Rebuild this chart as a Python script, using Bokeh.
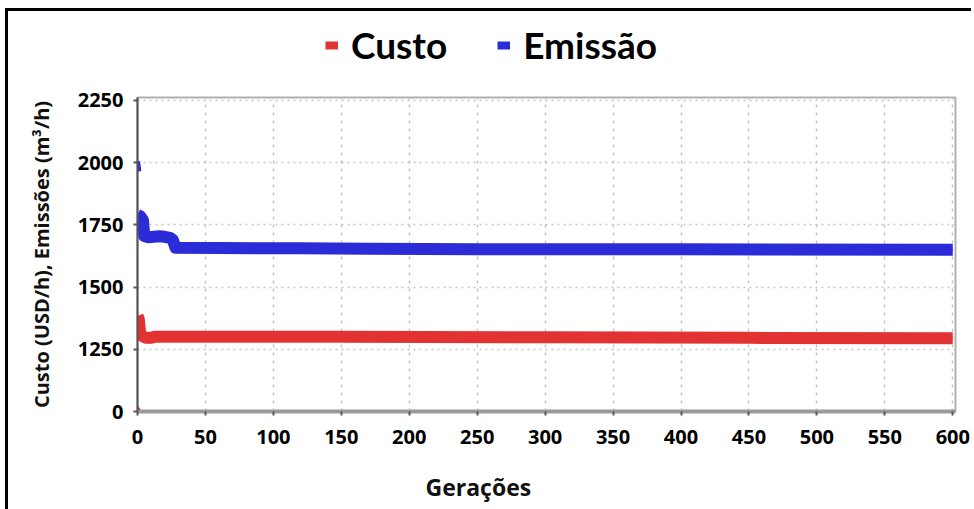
from bokeh.plotting import figure
from bokeh.layouts import column
from bokeh.models import FixedTicker, Legend, LegendItem, Label
from bokeh.embed import file_html
from bokeh.resources import INLINE

# ---- data ----
# Emissão (m3/h): first generation point, then the descending run
emis_first_gen = [0, 1]
emis_first_val = [2005, 1965]
emis_gen = [0, 2, 4, 5, 8, 12, 16, 20, 24, 26, 28, 60, 120, 170, 250, 400, 600]
emis_val = [1790, 1785, 1770, 1705, 1700, 1702, 1704, 1702, 1698, 1690, 1658, 1657, 1656, 1654, 1652, 1652, 1650]
# Custo (USD/h)
cost_zero_gen = [0]
cost_zero_val = [0]
cost_gen = [0, 1, 2, 4, 6, 10, 12, 50, 150, 300, 450, 600]
cost_val = [1385, 1370, 1310, 1302, 1296, 1296, 1300, 1300, 1300, 1298, 1296, 1294]

series_names = ["Custo", "Emissão"]
x_ticks = [0, 50, 100, 150, 200, 250, 300, 350, 400, 450, 500, 550, 600]
y_ticks = [0, 1250, 1500, 1750, 2000, 2250]
x_title = "Gerações"
y_title = "Custo (USD/h), Emissões (m³/h)"

# broken axis: values below 1250 drawn one step under 1250
BREAK_POS = 1000
def disp(v):
    return v if v >= 1250 else BREAK_POS + v * 0.0

RED = "#e23232"
BLUE = "#2b2bd8"
FONT = "Open Sans"
TXT = "#111111"

# ---------- legend strip (series drawn off-range; only the legend shows) ----------
lg = figure(width=963, height=60, output_backend="svg", toolbar_location=None,
            x_range=(-20, -10), y_range=(-20, -10), x_axis_type=None, y_axis_type=None,
            min_border=0)
lg.grid.visible = False
lg.outline_line_color = None
leg_c = lg.line(cost_gen, cost_val, line_color=RED, line_width=8)
leg_e = lg.line(emis_gen, emis_val, line_color=BLUE, line_width=8)
legend = Legend(items=[LegendItem(label=series_names[0], renderers=[leg_c]),
                       LegendItem(label=series_names[1], renderers=[leg_e])],
                orientation="horizontal", location=(188, 4),
                label_text_font="Lato", label_text_font_style="bold",
                label_text_color="black",
                label_text_font_size="37px", label_standoff=13, spacing=50,
                glyph_width=13, glyph_height=40, label_height=40,
                padding=0, margin=0, border_line_color=None,
                background_fill_alpha=0)
lg.add_layout(legend, "center")

# ---------- main chart ----------
p = figure(width=963, height=390, output_backend="svg", toolbar_location=None,
           x_range=(0, 602), y_range=(1000, 2262),
           min_border_left=129, min_border_right=16, min_border_top=26, min_border_bottom=50)

p.outline_line_color = "#b0b0b0"
p.outline_line_width = 2

# grid
p.xgrid.ticker = FixedTicker(ticks=x_ticks)
p.ygrid.ticker = FixedTicker(ticks=[disp(v) for v in y_ticks])
p.grid.grid_line_color = "#c4c4c4"
p.grid.grid_line_width = 1.5
p.xgrid.grid_line_dash = "3 5"
p.ygrid.grid_line_dash = "2 4"

# axes
p.xaxis.ticker = FixedTicker(ticks=x_ticks)
p.yaxis.ticker = FixedTicker(ticks=[disp(v) for v in y_ticks])
p.yaxis.major_label_overrides = {disp(v): str(v) for v in y_ticks}
for ax in (p.xaxis, p.yaxis):
    ax.major_label_text_font = FONT
    ax.major_label_text_font_style = "bold"
    ax.major_label_text_font_size = "20px"
    ax.major_label_text_color = "black"
    ax.minor_tick_line_color = None
    ax.major_tick_in = 0
    ax.major_tick_out = 4
    ax.major_tick_line_width = 2
    ax.major_tick_line_color = "#555555"
p.xaxis.axis_line_color = "#9a9a9a"
p.xaxis.axis_line_width = 4
p.xaxis.major_label_standoff = 14
p.yaxis.axis_line_color = "#555555"
p.yaxis.axis_line_width = 2
p.yaxis.major_label_standoff = 10

p.yaxis.axis_label = y_title
p.yaxis.axis_label_text_font = FONT
p.yaxis.axis_label_text_font_style = "bold"
p.yaxis.axis_label_text_font_size = "20px"
p.yaxis.axis_label_text_color = TXT
p.yaxis.axis_label_standoff = 20

# series
p.line(emis_first_gen, [disp(v) for v in emis_first_val], line_color=BLUE, line_width=5)
p.line(emis_gen, [disp(v) for v in emis_val], line_color=BLUE, line_width=12, line_join="round")
p.line(cost_gen, [disp(v) for v in cost_val], line_color=RED, line_width=12, line_join="round")
p.scatter(cost_zero_gen, [disp(v) + 8 for v in cost_zero_val], marker="triangle",
          size=7, color="#cc2020")

# ---------- x-axis title strip ----------
xt = figure(width=963, height=48, output_backend="svg", toolbar_location=None,
            x_range=(0, 1), y_range=(0, 1), x_axis_type=None, y_axis_type=None,
            min_border=0)
xt.grid.visible = False
xt.outline_line_color = None
xt.add_layout(Label(x=288, y=23, x_units="screen", y_units="screen", text=x_title,
                    text_font=FONT, text_font_style="bold", text_font_size="23px",
                    text_color=TXT, text_baseline="middle", text_align="left"))

layout = column(lg, p, xt, spacing=0,
                styles={"border-top": "3px solid black", "border-left": "3px solid black",
                        "margin-left": "5px", "margin-top": "8px"})

open("out.html", "w").write(file_html(layout, INLINE))
